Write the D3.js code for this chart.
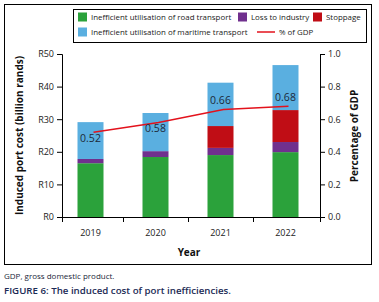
<!DOCTYPE html>
<html>
<head>
<meta charset="utf-8">
<script src="https://cdn.jsdelivr.net/npm/d3@7"></script>
<style>
  body { margin: 0; background: white; }
  svg text { font-family: "Open Sans", "Noto Sans", sans-serif; }
</style>
</head>
<body>
<div id="container"></div>
<script>
let w = 379;
let h = 302;

// data (billion rands, % of GDP)
let years = ["2019", "2020", "2021", "2022"];
let roadTransport = [16.5, 18.4, 19.0, 19.9];
let lossToIndustry = [1.3, 1.8, 2.2, 3.1];
let stoppage = [0, 0, 6.7, 9.8];
let maritimeTransport = [11.3, 11.7, 13.3, 13.8];
let gdpShare = [0.52, 0.58, 0.66, 0.68];

let leftTicks = [0, 10, 20, 30, 40, 50];
let rightTicks = [0, 0.2, 0.4, 0.6, 0.8, 1.0];

let seriesNames = [
  "Inefficient utilisation of road transport",
  "Loss to industry",
  "Stoppage",
  "Inefficient utilisation of maritime transport"
];
let seriesColors = ["#2ba23b", "#70308e", "#c00d15", "#5aafe0"];
let lineColor = "#e3121c";

let viz = d3.select("#container")
  .append("svg")
    .attr("width", w)
    .attr("height", h)
    .style("background-color", "white")
;

// outer frame
viz.append("rect")
  .attr("x", 4.5).attr("y", 4.5)
  .attr("width", 367).attr("height", 260)
  .attr("fill", "none")
  .attr("stroke", "black")
  .attr("stroke-width", 1)
;

let plotLeft = 62;
let plotRight = 320;
let plotTop = 54;
let plotBottom = 217;

let xScale = d3.scaleBand().domain(years).range([58, 318]).paddingInner(0.6).paddingOuter(0.3);
let yScale = d3.scaleLinear().domain([0, 50]).range([plotBottom, plotTop]);
let y2Scale = d3.scaleLinear().domain([0, 1]).range([plotBottom, plotTop]);

// stack the four series
let table = years.map(function(y, i){
  return {
    year: y,
    road: roadTransport[i],
    loss: lossToIndustry[i],
    stop: stoppage[i],
    mar: maritimeTransport[i]
  };
});
let keys = ["road", "loss", "stop", "mar"];
let stacked = d3.stack().keys(keys)(table);

viz.selectAll(".layer").data(stacked).enter()
  .append("g")
    .classed("layer", true)
    .attr("fill", function(d, i){ return seriesColors[i]; })
  .selectAll("rect").data(function(d){ return d; }).enter()
  .append("rect")
    .attr("x", function(d){ return xScale(d.data.year); })
    .attr("width", xScale.bandwidth())
    .attr("y", function(d){ return yScale(d[1]); })
    .attr("height", function(d){ return yScale(d[0]) - yScale(d[1]); })
;

// left axis
let leftAxis = d3.axisLeft(yScale)
  .tickValues(leftTicks)
  .tickSize(5)
  .tickPadding(3)
  .tickFormat(function(d){ return "R" + d; });
let gLeft = viz.append("g")
  .attr("transform", "translate(" + plotLeft + ",0)")
  .call(leftAxis);

// right axis
let rightAxis = d3.axisRight(y2Scale)
  .tickValues(rightTicks)
  .tickSize(5)
  .tickPadding(3)
  .tickFormat(d3.format(".1f"));
let gRight = viz.append("g")
  .attr("transform", "translate(" + plotRight + ",0)")
  .call(rightAxis);

[gLeft, gRight].forEach(function(g){
  g.select(".domain").attr("stroke", "black");
  g.selectAll(".tick line").attr("stroke", "black");
  g.selectAll(".tick text")
    .attr("fill", "#222")
    .style("font-size", "9px");
});

// x axis line with category separators
viz.append("line")
  .attr("x1", plotLeft).attr("x2", plotRight)
  .attr("y1", plotBottom + 0.5).attr("y2", plotBottom + 0.5)
  .attr("stroke", "black");

let step = xScale.step();
let sepTicks = years.slice(1).map(function(y){ return xScale(y) - step * xScale.paddingInner() / 2; });
sepTicks = [plotLeft].concat(sepTicks).concat([plotRight]);
viz.selectAll(".xtick").data(sepTicks).enter()
  .append("line")
    .classed("xtick", true)
    .attr("x1", function(d){ return Math.round(d) + 0.5; })
    .attr("x2", function(d){ return Math.round(d) + 0.5; })
    .attr("y1", plotBottom)
    .attr("y2", plotBottom + 5)
    .attr("stroke", "black");

viz.selectAll(".xlabel").data(years).enter()
  .append("text")
    .classed("xlabel", true)
    .text(function(d){ return d; })
    .attr("x", function(d){ return xScale(d) + xScale.bandwidth() / 2; })
    .attr("y", 236)
    .attr("text-anchor", "middle")
    .attr("fill", "#222")
    .style("font-size", "9px");

// % of GDP line
let lineGen = d3.line()
  .x(function(d, i){ return xScale(years[i]) + xScale.bandwidth() / 2 + 3; })
  .y(function(d){ return y2Scale(d); });

viz.append("path")
  .datum(gdpShare)
  .attr("d", lineGen)
  .attr("fill", "none")
  .attr("stroke", lineColor)
  .attr("stroke-width", 1.5);

viz.selectAll(".gdplabel").data(gdpShare).enter()
  .append("text")
    .classed("gdplabel", true)
    .text(function(d){ return d.toFixed(2); })
    .attr("x", function(d, i){ return xScale(years[i]) + xScale.bandwidth() / 2; })
    .attr("y", function(d, i){ return i < 2 ? y2Scale(d) + 10 : y2Scale(d) - 5; })
    .attr("text-anchor", "middle")
    .attr("fill", "#1c2a3a")
    .style("font-size", "10.5px");

// axis titles
viz.append("text")
  .text("Induced port cost (billion rands)")
  .attr("transform", "translate(23," + ((plotTop + plotBottom) / 2) + ") rotate(-90)")
  .attr("text-anchor", "middle")
  .style("font-size", "10px")
  .style("font-weight", "bold")
  .attr("fill", "#111");

viz.append("text")
  .text("Percentage of GDP")
  .attr("transform", "translate(358," + 136 + ") rotate(-90)")
  .attr("text-anchor", "middle")
  .style("font-size", "10px")
  .style("font-weight", "bold")
  .attr("fill", "#111");

viz.append("text")
  .text("Year")
  .attr("x", 189)
  .attr("y", 256)
  .attr("text-anchor", "middle")
  .style("font-size", "10px")
  .style("font-weight", "bold")
  .attr("fill", "#111");

// legend
viz.append("rect")
  .attr("x", 73.5).attr("y", 9.5)
  .attr("width", 293).attr("height", 33)
  .attr("fill", "white")
  .attr("stroke", "black");

let legendItems = [
  { name: seriesNames[0], color: seriesColors[0], x: 78, y: 17 },
  { name: seriesNames[1], color: seriesColors[1], x: 238, y: 17 },
  { name: seriesNames[2], color: seriesColors[2], x: 313, y: 17 },
  { name: seriesNames[3], color: seriesColors[3], x: 78, y: 32 }
];

let legend = viz.selectAll(".legenditem").data(legendItems).enter()
  .append("g")
    .classed("legenditem", true)
    .attr("transform", function(d){ return "translate(" + d.x + "," + d.y + ")"; });

legend.append("rect")
  .attr("x", 0).attr("y", -4.5)
  .attr("width", 9).attr("height", 9)
  .attr("fill", function(d){ return d.color; });

legend.append("text")
  .text(function(d){ return d.name; })
  .attr("x", 13)
  .attr("y", 3)
  .attr("fill", "#222")
  .style("font-size", "7.9px");

let lineLegend = viz.append("g").attr("transform", "translate(257,32)");
lineLegend.append("line")
  .attr("x1", 0).attr("x2", 18)
  .attr("stroke", lineColor).attr("stroke-width", 1.5);
lineLegend.append("text")
  .text("% of GDP")
  .attr("x", 22).attr("y", 3)
  .attr("fill", "#222")
  .style("font-size", "7.9px");

// notes under the chart
viz.append("text")
  .text("GDP, gross domestic product.")
  .attr("x", 4).attr("y", 279)
  .attr("fill", "#1a1f3a")
  .style("font-size", "8px");

viz.append("text")
  .text("FIGURE 6: The induced cost of port inefficiencies.")
  .attr("x", 4).attr("y", 294)
  .attr("fill", "#1b2a55")
  .style("font-size", "9.7px")
  .style("font-weight", "600");
</script>
</body>
</html>
